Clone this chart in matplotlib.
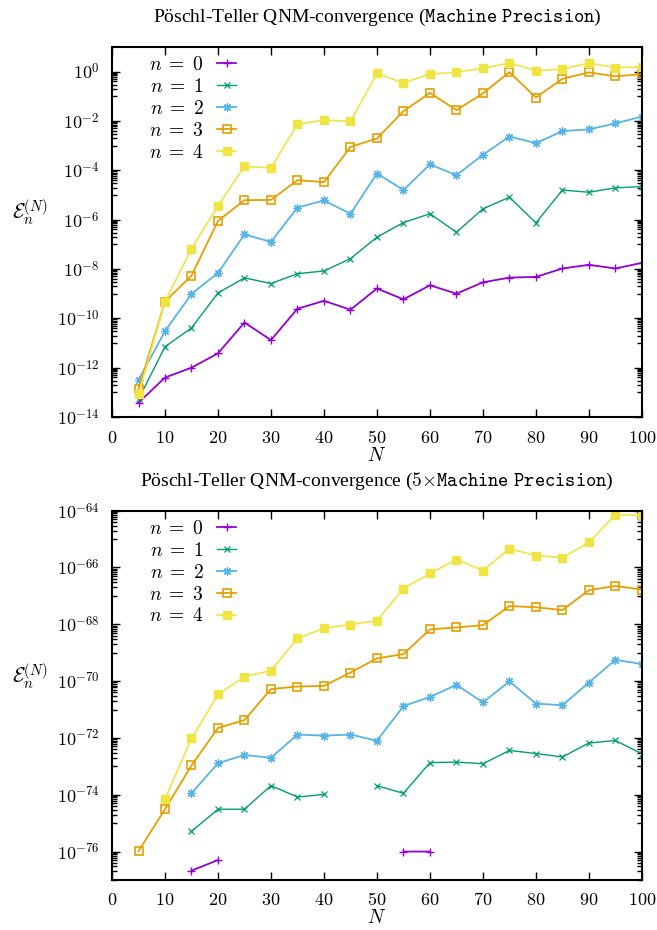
import numpy as np
import matplotlib
matplotlib.use("Agg")
from matplotlib import pyplot as plt
from matplotlib.ticker import FixedLocator, FuncFormatter

plt.rcParams['font.family'] = ['Liberation Serif', 'DejaVu Serif']
plt.rcParams['mathtext.fontset'] = 'cm'

N = [5, 10, 15, 20, 25, 30, 35, 40, 45, 50, 55, 60, 65, 70, 75, 80, 85, 90, 95, 100]
nan = np.nan

# log10 of the error, machine precision run
top_n0 = [-13.42, -12.40, -12.00, -11.42, -10.17, -10.88, -9.61, -9.29, -9.65, -8.79,
          -9.23, -8.66, -9.00, -8.54, -8.35, -8.32, -7.98, -7.83, -7.98, -7.75]
top_n1 = [-13.28, -11.15, -10.39, -8.97, -8.36, -8.59, -8.19, -8.08, -7.58, -6.71,
          -6.12, -5.76, -6.51, -5.56, -5.09, -6.13, -4.80, -4.89, -4.71, -4.66]
top_n2 = [-12.50, -10.52, -9.01, -8.16, -6.60, -6.90, -5.51, -5.22, -5.76, -4.13,
          -4.80, -3.76, -4.20, -3.37, -2.63, -2.90, -2.41, -2.34, -2.10, -1.82]
top_n3 = [-12.86, -9.32, -8.27, -6.05, -5.21, -5.20, -4.40, -4.48, -3.05, -2.71,
          -1.60, -0.86, -1.56, -0.88, -0.02, -1.05, -0.29, -0.03, -0.19, -0.10]
top_n4 = [-13.07, -9.32, -7.18, -5.44, -3.84, -3.90, -2.14, -1.96, -2.02, -0.07,
          -0.46, -0.10, -0.02, 0.13, 0.35, 0.04, 0.10, 0.35, 0.16, 0.19]

# log10 of the error, 5x machine precision run (nan = not shown)
bot_n0 = [nan, nan, -76.67, -76.30, nan, nan, nan, nan, nan, nan,
          -76.00, -76.00, nan, nan, nan, nan, nan, nan, nan, nan]
bot_n1 = [nan, nan, -75.29, -74.51, -74.51, -73.68, -74.08, -73.99, nan, -73.68,
          -73.95, -72.87, -72.85, -72.91, -72.44, -72.55, -72.67, -72.18, -72.09, -72.56]
bot_n2 = [nan, nan, -73.95, -72.89, -72.60, -72.70, -71.88, -71.92, -71.88, -72.10,
          -70.88, -70.56, -70.13, -70.75, -70.01, -70.79, -70.85, -70.05, -69.25, -69.40]
bot_n3 = [-75.99, -74.51, -72.97, -71.65, -71.37, -70.28, -70.19, -70.17, -69.70, -69.20,
          -69.05, -68.18, -68.11, -68.03, -67.36, -67.40, -67.50, -66.80, -66.65, -66.78]
bot_n4 = [nan, -74.16, -72.02, -70.47, -69.84, -69.63, -68.50, -68.14, -68.01, -67.87,
          -66.74, -66.21, -65.72, -66.11, -65.34, -65.58, -65.65, -65.12, -64.14, -64.16]

labels = [r'$n\;=\;0$', r'$n\;=\;1$', r'$n\;=\;2$', r'$n\;=\;3$', r'$n\;=\;4$']
colors = ['#9400d3', '#009e73', '#56b4e9', '#e69f00', '#f0e442']
styles = [dict(marker='+', ms=6, mew=1.0),
          dict(marker='x', ms=5, mew=0.9),
          dict(marker=(8, 2, 0), ms=6, mew=0.9),
          dict(marker='s', ms=6, mew=1.2, mfc='none'),
          dict(marker='s', ms=6, mew=1.0)]
widths = [1.3, 1.0, 1.3, 1.3, 1.2]


def draw_panel(ax, series, title, ylo, yhi):
    for vals, lab, c, st, lw in zip(series, labels, colors, styles, widths):
        ax.plot(N, 10.0 ** np.array(vals), color=c, lw=lw, label=lab, **st)
    ax.set_yscale('log')
    ax.set_xlim(0, 100)
    ax.set_ylim(10.0 ** ylo, 10.0 ** yhi)

    major = [10.0 ** e for e in range(ylo + (ylo % 2), yhi + 1, 2)]
    minor = [j * 10.0 ** e for e in range(ylo, yhi) if e % 2 != 0 for j in range(1, 10)]
    ax.yaxis.set_major_locator(FixedLocator(major))
    ax.yaxis.set_minor_locator(FixedLocator(minor))
    ax.yaxis.set_major_formatter(FuncFormatter(
        lambda v, p: r'$10^{%d}$' % int(round(np.log10(v)))))
    ax.yaxis.set_minor_formatter(FuncFormatter(lambda v, p: ''))
    ax.xaxis.set_major_locator(FixedLocator(range(0, 101, 10)))
    ax.xaxis.set_major_formatter(FuncFormatter(lambda v, p: r'$%d$' % v))

    ax.tick_params(which='both', direction='in', top=True, right=True, width=1.0)
    ax.tick_params(which='major', length=6, labelsize=13)
    ax.tick_params(axis='y', which='major', pad=9)
    ax.tick_params(axis='x', which='major', pad=9)
    ax.tick_params(which='minor', length=3.5)
    for sp in ax.spines.values():
        sp.set_linewidth(1.5)

    ax.set_xlabel(r'$N$', fontsize=14, labelpad=0)
    ax.set_ylabel(r'$\mathcal{E}_n^{(N)}$', fontsize=15, rotation=0, labelpad=0)
    ax.yaxis.set_label_coords(-0.155, 0.51)
    ax.set_title(title, fontsize=14, pad=18)
    ax.legend(loc='upper left', bbox_to_anchor=(0.07, 0.975), frameon=False,
              markerfirst=False, fontsize=14, handlelength=1.0, handletextpad=0.7,
              labelspacing=0.2, borderaxespad=0, borderpad=0)


fig = plt.figure(figsize=(6.57, 9.30), dpi=100)
ax1 = fig.add_axes([0.1705, 0.5516, 0.8065, 0.3979])
ax2 = fig.add_axes([0.1705, 0.0538, 0.8065, 0.3971])

draw_panel(ax1, [top_n0, top_n1, top_n2, top_n3, top_n4],
           r'Pöschl-Teller QNM-convergence ($\mathtt{Machine\ Precision}$)', -14, 1)
draw_panel(ax2, [bot_n0, bot_n1, bot_n2, bot_n3, bot_n4],
           r'Pöschl-Teller QNM-convergence ($5{\times}\mathtt{Machine\ Precision}$)', -77, -64)

fig.savefig('out.png', dpi=100)
